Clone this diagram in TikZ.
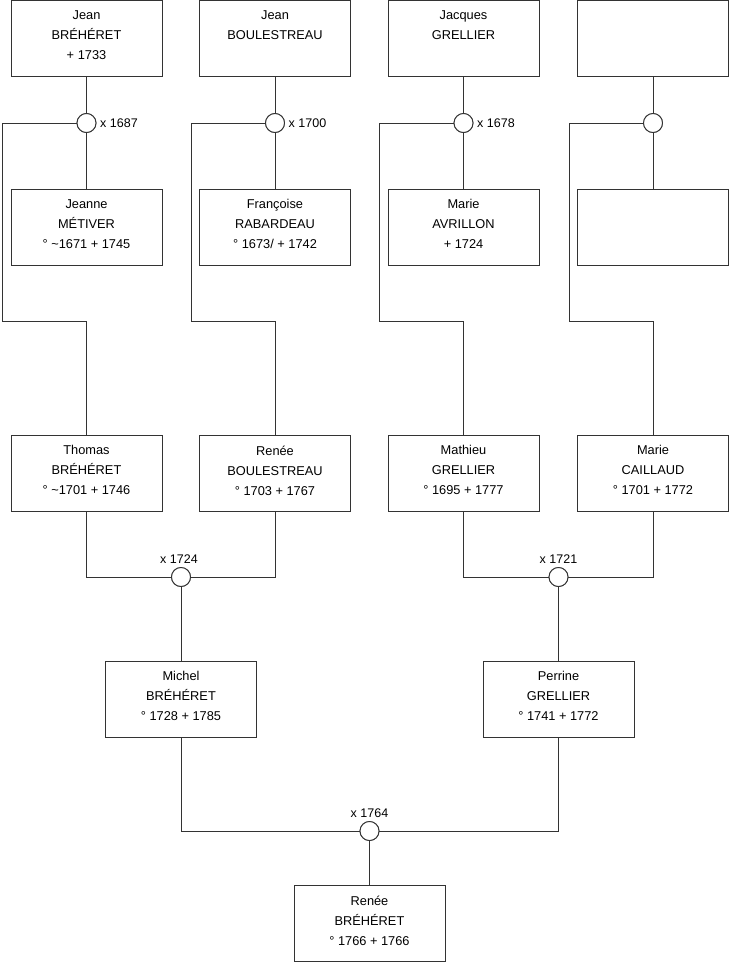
\documentclass[tikz,border=0pt]{standalone}
\usepackage{fontspec}
\setmainfont{Liberation Sans}
\begin{document}
\begin{tikzpicture}[x=1pt,y=-1pt,
  person/.style={draw=black!80,line width=0.9pt,fill=white,minimum width=151pt,minimum height=76pt,inner sep=0pt,outer sep=0pt},
  txt/.style={anchor=north,align=center,inner sep=0pt,font=\fontsize{12.8}{20}\selectfont},
  wed/.style={circle,draw=black!80,line width=0.9pt,fill=white,minimum size=19pt,inner sep=0pt,outer sep=0pt},
  lbl/.style={inner sep=0pt,font=\fontsize{12.5}{14}\selectfont},
  link/.style={draw=black!80,line width=0.9pt}]
\useasboundingbox (0,0) rectangle (740,975);

% row 1
\node[person] (a1) at (86.5,38) {};
\node[person] (a2) at (275,38) {};
\node[person] (a3) at (463.5,38) {};
\node[person] (a4) at (653,38) {};
% row 2
\node[person] (b1) at (86.5,227) {};
\node[person] (b2) at (275,227) {};
\node[person] (b3) at (463.5,227) {};
\node[person] (b4) at (653,227) {};
% row 3
\node[person] (c1) at (86.5,473) {};
\node[person] (c2) at (275,473) {};
\node[person] (c3) at (463.5,473) {};
\node[person] (c4) at (653,473) {};
% row 4
\node[person] (d1) at (181,699) {};
\node[person] (d2) at (558.5,699) {};
% row 5
\node[person] (e1) at (369.5,923.5) {};

% marriage circles
\node[wed] (w1) at (86.5,123) {};
\node[wed] (w2) at (275,123) {};
\node[wed] (w3) at (463.5,123) {};
\node[wed] (w4) at (653,123) {};
\node[wed] (w5) at (181,577) {};
\node[wed] (w6) at (558.5,577) {};
\node[wed] (w7) at (369.5,831) {};

% bend points
\coordinate (k1) at (2,321);
\coordinate (k2) at (191,321);
\coordinate (k3) at (379.5,321);
\coordinate (k4) at (569,321);

% connectors
\foreach \i in {1,2,3,4}{
  \draw[link] (a\i.south) -- (w\i.north);
  \draw[link] (w\i.south) -- (b\i.north);
  \draw[link] (w\i.west) -| (k\i) -| (c\i.north);
}
\draw[link] (c1.south) |- (w5.west);
\draw[link] (c2.south) |- (w5.east);
\draw[link] (w5.south) -- (d1.north);
\draw[link] (c3.south) |- (w6.west);
\draw[link] (c4.south) |- (w6.east);
\draw[link] (w6.south) -- (d2.north);
\draw[link] (d1.south) |- (w7.west);
\draw[link] (d2.south) |- (w7.east);
\draw[link] (w7.south) -- (e1.north);

% redraw circles on top
\foreach \i in {1,...,7}{\node[wed] at (w\i) {};}

% texts
\node[txt] at ([yshift=-10.5pt]a1.north) {Jean\\BRÉHÉRET\\+ 1733};
\node[txt] at ([yshift=-10.5pt]a2.north) {Jean\\BOULESTREAU};
\node[txt] at ([yshift=-10.5pt]a3.north) {Jacques\\GRELLIER};
\node[txt] at ([yshift=-10.5pt]b1.north) {Jeanne\\MÉTIVER\\° \textasciitilde1671 + 1745};
\node[txt] at ([yshift=-10.5pt]b2.north) {Françoise\\RABARDEAU\\° 1673/ + 1742};
\node[txt] at ([yshift=-10.5pt]b3.north) {Marie\\AVRILLON\\+ 1724};
\node[txt] at ([yshift=-10.5pt]c1.north) {Thomas\\BRÉHÉRET\\° \textasciitilde1701 + 1746};
\node[txt] at ([yshift=-10.5pt]c2.north) {Renée\\BOULESTREAU\\° 1703 + 1767};
\node[txt] at ([yshift=-10.5pt]c3.north) {Mathieu\\GRELLIER\\° 1695 + 1777};
\node[txt] at ([yshift=-10.5pt]c4.north) {Marie\\CAILLAUD\\° 1701 + 1772};
\node[txt] at ([yshift=-10.5pt]d1.north) {Michel\\BRÉHÉRET\\° 1728 + 1785};
\node[txt] at ([yshift=-10.5pt]d2.north) {Perrine\\GRELLIER\\° 1741 + 1772};
\node[txt] at ([yshift=-10.5pt]e1.north) {Renée\\BRÉHÉRET\\° 1766 + 1766};

% marriage labels
\node[lbl,anchor=west] at ([xshift=4pt]w1.east) {x 1687};
\node[lbl,anchor=west] at ([xshift=4pt]w2.east) {x 1700};
\node[lbl,anchor=west] at ([xshift=4pt]w3.east) {x 1678};
\node[lbl,anchor=south] at ([yshift=4pt,xshift=-2pt]w5.north) {x 1724};
\node[lbl,anchor=south] at ([yshift=4pt]w6.north) {x 1721};
\node[lbl,anchor=south] at ([yshift=4pt]w7.north) {x 1764};
\end{tikzpicture}
\end{document}
